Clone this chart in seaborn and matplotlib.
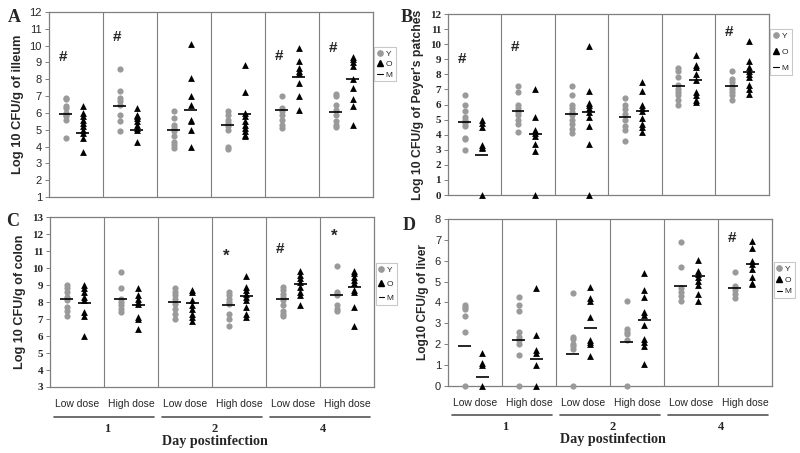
import pandas as pd
import seaborn as sns
import matplotlib.pyplot as plt
import matplotlib.transforms as mtransforms
from matplotlib.lines import Line2D

# group labels (6 groups per panel)
doses = ["Low dose", "High dose", "Low dose", "High dose", "Low dose", "High dose"]
days = ["1", "2", "4"]

# A - ileum
ileum_young = [
    [6.9, 6.8, 6.4, 6.3, 6.0, 5.9, 5.8, 5.6, 4.5],
    [8.6, 7.3, 6.9, 6.7, 6.5, 5.9, 5.5, 4.9],
    [6.1, 5.7, 5.3, 5.1, 4.9, 4.6, 4.3, 4.1, 3.9],
    [6.1, 5.9, 5.6, 5.4, 5.2, 5.0, 4.0, 3.85],
    [7.0, 6.3, 6.1, 5.9, 5.6, 5.3, 5.1],
    [7.1, 7.0, 6.5, 6.2, 5.9, 5.5, 5.3, 5.15],
]
ileum_old = [
    [6.4, 6.0, 5.8, 5.6, 5.4, 5.2, 5.0, 4.8, 4.5, 3.7],
    [6.3, 5.9, 5.8, 5.7, 5.5, 5.3, 5.1, 5.0, 4.3],
    [10.1, 8.1, 7.0, 6.5, 5.6, 5.5, 5.0, 4.0],
    [8.85, 7.25, 6.0, 5.8, 5.5, 5.3, 5.1, 4.9, 4.7, 4.6],
    [9.85, 9.1, 8.7, 8.5, 8.4, 7.8, 7.0, 6.2],
    [9.35, 9.2, 9.0, 8.8, 8.0, 7.5, 6.8, 6.4, 5.3],
]
ileum_young_mean = [5.95, 6.4, 5.0, 5.3, 6.2, 6.05]
ileum_old_mean = [4.8, 5.0, 6.2, 5.95, 8.15, 8.0]
ileum_marks = ["#", "#", "", "", "#", "#"]
ileum_mark_y = [9.3, 10.5, 0, 0, 9.4, 9.85]

# B - Peyer's patches
pp_young = [
    [6.6, 6.0, 5.6, 5.2, 5.0, 4.8, 4.6, 3.8, 3.7, 3.0],
    [7.2, 6.8, 6.0, 5.8, 5.5, 5.3, 5.0, 4.7, 4.2],
    [7.2, 6.6, 6.0, 5.8, 5.5, 5.3, 5.0, 4.7, 4.4, 4.1],
    [6.4, 6.0, 5.7, 5.4, 5.0, 4.6, 4.3, 3.6],
    [8.4, 8.2, 7.8, 7.3, 7.0, 6.8, 6.6, 6.3, 6.0],
    [8.2, 7.7, 7.5, 7.2, 7.0, 6.8, 6.6, 6.3],
]
pp_old = [
    [5.0, 4.8, 4.5, 3.3, 3.2, 3.1, 0.0],
    [7.0, 5.2, 4.3, 4.1, 3.9, 3.4, 2.9, 0.0],
    [9.9, 6.9, 6.1, 6.0, 5.8, 5.5, 5.2, 4.6, 3.4, 0.0],
    [7.5, 6.9, 6.0, 5.8, 5.6, 5.1, 4.7, 4.5, 4.2],
    [9.3, 8.6, 8.5, 8.0, 7.6, 6.8, 6.6, 6.3, 6.2],
    [10.2, 8.9, 8.5, 8.2, 8.0, 7.8, 7.3, 7.0, 6.7],
]
pp_young_mean = [4.85, 5.55, 5.4, 5.2, 7.2, 7.2]
pp_old_mean = [2.65, 4.05, 5.5, 5.6, 7.6, 8.15]
pp_marks = ["#", "#", "", "", "", "#"]
pp_mark_y = [9.0, 9.8, 0, 0, 0, 10.8]

# C - colon
colon_young = [
    [9.0, 8.8, 8.6, 8.3, 8.1, 7.7, 7.5, 7.2],
    [9.75, 8.85, 8.2, 8.0, 7.8, 7.6, 7.4],
    [8.8, 8.6, 8.4, 8.2, 7.9, 7.6, 7.3, 7.0],
    [8.6, 8.4, 8.2, 8.0, 7.9, 7.3, 7.0, 6.6],
    [8.9, 8.7, 8.5, 8.3, 8.1, 7.8, 7.5, 7.3, 7.2],
    [10.1, 8.6, 8.5, 8.4, 7.8, 7.6, 7.5],
]
colon_old = [
    [9.0, 8.8, 8.6, 8.3, 8.1, 7.4, 7.2, 6.0],
    [8.8, 8.4, 8.2, 8.0, 7.9, 7.1, 7.0, 6.4],
    [8.7, 8.6, 8.1, 7.8, 7.6, 7.3, 7.1, 6.9],
    [9.55, 8.9, 8.7, 8.5, 8.3, 8.1, 7.7, 7.3, 7.1],
    [9.8, 9.6, 9.4, 9.2, 8.9, 8.6, 8.4, 7.8],
    [9.85, 9.7, 9.5, 9.3, 9.1, 8.7, 8.6, 7.7, 6.6],
]
colon_young_mean = [8.2, 8.2, 8.0, 7.85, 8.2, 8.4]
colon_old_mean = [7.95, 7.85, 7.95, 8.35, 9.05, 8.9]
colon_marks = ["", "", "", "*", "#", "*"]
colon_mark_y = [0, 0, 0, 10.7, 11.1, 11.9]

# D - liver
liver_young = [
    [3.9, 3.8, 3.7, 3.35, 2.6, 0.0],
    [4.25, 3.9, 3.6, 2.6, 2.35, 2.2, 2.0, 1.5, 0.0],
    [4.45, 2.35, 2.25, 2.0, 1.9, 1.75, 0.0],
    [4.05, 2.75, 2.6, 2.5, 2.2, 0.0],
    [6.9, 5.7, 4.7, 4.5, 4.3, 4.05],
    [5.45, 4.8, 4.6, 4.4, 4.2],
]
liver_old = [
    [1.6, 1.1, 1.0, 0.0],
    [4.7, 2.45, 1.7, 1.6, 1.0, 0.0],
    [4.75, 4.2, 4.05, 3.3, 2.2, 2.1, 2.0, 1.45],
    [5.4, 4.6, 4.25, 3.55, 3.4, 2.9, 2.25, 2.1, 1.9, 1.05],
    [6.05, 5.5, 5.35, 5.2, 5.05, 4.85, 4.4, 4.05],
    [6.95, 6.6, 6.0, 5.85, 5.6, 5.2, 4.95, 4.9],
]
liver_young_mean = [1.9, 2.22, 1.55, 2.1, 4.8, 4.7]
liver_old_mean = [0.42, 1.3, 2.8, 3.18, 5.25, 5.85]
liver_marks = ["", "", "", "", "", "#"]
liver_mark_y = [0, 0, 0, 0, 0, 7.1]

sns.set_style("white")
plt.rcParams["font.family"] = ["Liberation Sans", "DejaVu Sans"]

GREY = "#9a9a9a"
FRAME = "#7f7f7f"
OFF_Y, OFF_O = -0.19, 0.13


def long_table(young, old):
    rows = []
    for g, (yv, ov) in enumerate(zip(young, old)):
        rows += [{"group": g, "age": "Y", "x": g + OFF_Y, "value": v} for v in yv]
        rows += [{"group": g, "age": "O", "x": g + OFF_O, "value": v} for v in ov]
    return pd.DataFrame(rows)


def draw_panel(ax, young, old, ymean, omean, marks, mark_y, ylim, ylabel,
               label_size, serif_ticks, bottom_labels, leg_top, leg_space):
    df = long_table(young, old)
    sns.scatterplot(data=df[df.age == "Y"], x="x", y="value", color=GREY,
                    marker="o", s=20, linewidth=0, ax=ax, clip_on=False, zorder=3)
    sns.scatterplot(data=df[df.age == "O"], x="x", y="value", color="black",
                    marker="^", s=24, linewidth=0, ax=ax, clip_on=False, zorder=3)
    for g in range(6):
        ax.hlines(ymean[g], g + OFF_Y - 0.12, g + OFF_Y + 0.12, color="black", lw=1.2, zorder=4)
        ax.hlines(omean[g], g + OFF_O - 0.12, g + OFF_O + 0.12, color="black", lw=1.2, zorder=4)
        if marks[g]:
            ax.text(g - 0.24, mark_y[g], marks[g], ha="center", va="center",
                    fontsize=11 if marks[g] == "#" else 12, fontweight="bold")
    for b in range(5):
        ax.axvline(b + 0.5, color=FRAME, lw=0.8)

    ax.set_xlim(-0.5, 5.5)
    ax.set_ylim(*ylim)
    ticks = list(range(ylim[0], ylim[1] + 1))
    ax.set_yticks(ticks)
    if serif_ticks:
        ax.set_yticklabels([str(t) for t in ticks], family="Liberation Serif",
                           fontweight="bold", fontsize=8)
    else:
        ax.set_yticklabels([str(t) for t in ticks], fontsize=8)
    ax.tick_params(axis="y", length=3, width=0.7, color=FRAME, pad=2, left=True)
    for sp in ax.spines.values():
        sp.set_color(FRAME)
        sp.set_linewidth(0.9)
    ax.set_ylabel(ylabel, fontsize=label_size, fontweight="bold", labelpad=4)
    ax.set_xlabel("")

    if bottom_labels:
        ax.set_xticks(range(6))
        ax.set_xticklabels(doses, fontsize=7.5)
        ax.tick_params(axis="x", length=0, pad=9)
        tr = mtransforms.blended_transform_factory(ax.transData, ax.transAxes)
        for k, d in enumerate(days):
            ax.plot([2 * k - 0.43, 2 * k + 1.42], [-0.175, -0.175], color="#555555",
                    lw=1.2, transform=tr, clip_on=False)
            ax.text(2 * k + 0.55, -0.245, d, transform=tr, ha="center", va="center",
                    family="Liberation Serif", fontweight="bold", fontsize=9)
        ax.text(2.55, -0.32, "Day postinfection", transform=tr, ha="center", va="center",
                family="Liberation Serif", fontweight="bold", fontsize=10.2)
    else:
        ax.set_xticks([])

    handles = [
        Line2D([], [], marker="o", color=GREY, ls="", markersize=3.8, label="Y"),
        Line2D([], [], marker="^", color="black", ls="", markersize=4, label="O"),
        Line2D([], [], color="black", lw=0.8, label="M"),
    ]
    leg = ax.legend(handles=handles, loc="upper left", bbox_to_anchor=(1.005, leg_top),
                    fontsize=6, frameon=True, fancybox=False, borderpad=0.35,
                    handlelength=0.7, handletextpad=0.3, labelspacing=leg_space,
                    borderaxespad=0.0)
    leg.get_frame().set_edgecolor("#bbbbbb")
    leg.get_frame().set_linewidth(0.8)


fig = plt.figure(figsize=(8, 4.53), dpi=100)
ax_a = fig.add_axes([0.061, 0.565, 0.405, 0.4085])
ax_b = fig.add_axes([0.560, 0.5695, 0.401, 0.3995])
ax_c = fig.add_axes([0.0625, 0.1457, 0.405, 0.375])
ax_d = fig.add_axes([0.560, 0.148, 0.405, 0.3686])

draw_panel(ax_a, ileum_young, ileum_old, ileum_young_mean, ileum_old_mean,
           ileum_marks, ileum_mark_y, (1, 12), "Log 10 CFU/g of illeum", 9.3,
           False, False, 0.81, 0.3)
draw_panel(ax_b, pp_young, pp_old, pp_young_mean, pp_old_mean,
           pp_marks, pp_mark_y, (0, 12), "Log 10 CFU/g of Peyer's patches", 8.8,
           True, False, 0.915, 0.95)
draw_panel(ax_c, colon_young, colon_old, colon_young_mean, colon_old_mean,
           colon_marks, colon_mark_y, (3, 13), "Log 10 CFU/g of colon", 9.1,
           True, True, 0.73, 0.75)
draw_panel(ax_d, liver_young, liver_old, liver_young_mean, liver_old_mean,
           liver_marks, liver_mark_y, (0, 8), "Log10 CFU/g of liver", 8.6,
           False, True, 0.74, 0.4)

for letter, x, y in [("A", 0.018, 0.962), ("B", 0.508, 0.962),
                     ("C", 0.016, 0.51), ("D", 0.512, 0.503)]:
    fig.text(x, y, letter, ha="center", va="center", family="Liberation Serif",
             fontweight="bold", fontsize=13)

fig.savefig("out.png", dpi=100)
